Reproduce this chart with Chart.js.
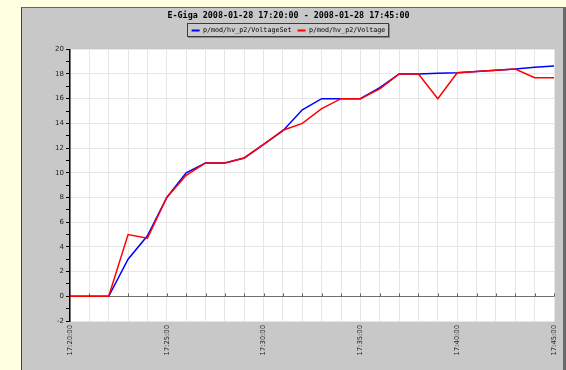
<!DOCTYPE html>
<html>
<head>
<meta charset="utf-8">
<script src="https://cdn.jsdelivr.net/npm/chart.js@4"></script>
<style>
  html, body { margin: 0; padding: 0; }
  body { width: 566px; height: 370px; background: #ffffe2; position: relative; overflow: hidden; }
  #panel {
    position: absolute; left: 21px; top: 7px; width: 541px; height: 380px;
    background: #c8c8c8;
    border-left: 1px solid #444; border-top: 1px solid #666; border-right: 3px solid #6a6a6a;
  }
  #wrap { position: absolute; left: 23px; top: 9px; width: 539px; height: 361px; }
</style>
</head>
<body>
<div id="panel"></div>
<div id="wrap"><canvas id="hvChart"></canvas></div>
<script>
// Datos: una muestra por minuto, 17:20 - 17:45
const timeLabels = [
  '17:20:00', '17:21:00', '17:22:00', '17:23:00', '17:24:00', '17:25:00',
  '17:26:00', '17:27:00', '17:28:00', '17:29:00', '17:30:00', '17:31:00',
  '17:32:00', '17:33:00', '17:34:00', '17:35:00', '17:36:00', '17:37:00',
  '17:38:00', '17:39:00', '17:40:00', '17:41:00', '17:42:00', '17:43:00',
  '17:44:00', '17:45:00'
];
const voltageSet = [0, 0, 0, 3, 4.9, 8, 10, 10.8, 10.8, 11.2, 12.3, 13.4, 15.1,
  16, 16, 16, 16.9, 18, 18, 18.05, 18.1, 18.2, 18.3, 18.4, 18.55, 18.65];
const voltage = [0, 0, 0, 5, 4.7, 8, 9.8, 10.8, 10.8, 11.2, 12.3, 13.45, 14,
  15.2, 16, 16, 16.8, 18, 18, 16, 18.1, 18.2, 18.3, 18.4, 17.7, 17.7];
const seriesNames = ['p/mod/hv_p2/VoltageSet', 'p/mod/hv_p2/Voltage'];

// Fondo blanco del área de trazado + marco de la leyenda
const plotBackground = {
  id: 'plotBackground',
  beforeDraw(chart) {
    const ctx = chart.ctx;
    const a = chart.chartArea;
    ctx.save();
    ctx.fillStyle = '#ffffff';
    ctx.fillRect(a.left, a.top, a.right - a.left, a.bottom - a.top);

    const boxes = chart.legend.legendHitBoxes;
    if (boxes && boxes.length) {
      const left = Math.round(Math.min(...boxes.map(b => b.left)) - 5);
      const right = Math.round(Math.max(...boxes.map(b => b.left + b.width)) + 4);
      const top = Math.round(boxes[0].top - 4);
      const bottom = Math.round(boxes[0].top + boxes[0].height + 3);
      ctx.fillStyle = '#8c8c8c';
      ctx.fillRect(left + 1, top + 1, right - left, bottom - top);
      ctx.fillStyle = '#cacaca';
      ctx.fillRect(left, top, right - left, bottom - top);
      ctx.strokeStyle = '#3c3c3c';
      ctx.lineWidth = 1;
      ctx.strokeRect(left + 0.5, top + 0.5, right - left - 1, bottom - top - 1);
    }
    ctx.restore();
  }
};

// Pequeñas marcas sobre la línea del cero
const zeroTicks = {
  id: 'zeroTicks',
  beforeDatasetsDraw(chart) {
    const x = chart.scales.x, y = chart.scales.y;
    const y0 = Math.round(y.getPixelForValue(0)) + 0.5;
    const ctx = chart.ctx;
    ctx.save();
    ctx.strokeStyle = '#606060';
    ctx.lineWidth = 1;
    ctx.beginPath();
    timeLabels.forEach((t, i) => {
      const px = Math.round(x.getPixelForValue(i)) + 0.5;
      ctx.moveTo(px, y0);
      ctx.lineTo(px, y0 - 3);
    });
    ctx.stroke();
    ctx.restore();
  }
};

const ctx = document.getElementById('hvChart').getContext('2d');
new Chart(ctx, {
  type: 'line',
  data: {
    labels: timeLabels,
    datasets: [
      {
        label: seriesNames[0],
        data: voltageSet,
        borderColor: '#0000ff',
        backgroundColor: '#0000ff',
        borderWidth: 1.5,
        pointRadius: 0,
        tension: 0,
        order: 1
      },
      {
        label: seriesNames[1],
        data: voltage,
        borderColor: '#ff0000',
        backgroundColor: '#ff0000',
        borderWidth: 1.5,
        pointRadius: 0,
        tension: 0,
        order: 0
      }
    ]
  },
  options: {
    responsive: true,
    maintainAspectRatio: false,
    animation: false,
    layout: { padding: { left: 0, right: 8, top: 0, bottom: 0 } },
    plugins: {
      title: {
        display: true,
        text: 'E-Giga 2008-01-28 17:20:00 - 2008-01-28 17:45:00',
        color: '#000',
        font: { family: 'DejaVu Sans Mono', size: 8.4, weight: 'bold' },
        padding: { top: 2, bottom: 0 }
      },
      legend: {
        position: 'top',
        labels: {
          color: '#000',
          font: { family: 'DejaVu Sans Mono', size: 6.7 },
          boxWidth: 8,
          boxHeight: 2,
          padding: 6,
          sort: (a, b) => a.datasetIndex - b.datasetIndex,
          generateLabels(chart) {
            const items = Chart.defaults.plugins.legend.labels.generateLabels(chart);
            items.forEach(it => { it.lineWidth = 0; it.fillStyle = it.strokeStyle; });
            return items;
          }
        }
      },
      // separación vacía entre la leyenda y el gráfico
      subtitle: {
        display: true,
        text: '',
        weight: 500,
        font: { size: 1 },
        padding: { top: 0, bottom: 4.3 }
      },
      tooltip: { enabled: false }
    },
    scales: {
      x: {
        type: 'category',
        offset: false,
        afterFit(scale) {
          scale.height = 49;
          scale.paddingLeft = 0;
          scale.paddingRight = 0;
        },
        border: { display: false },
        grid: { color: '#e6e6e6', lineWidth: 1, drawTicks: false },
        ticks: {
          autoSkip: false,
          minRotation: 90,
          maxRotation: 90,
          padding: 4,
          color: '#222',
          font: { family: 'DejaVu Sans', size: 6.8 },
          callback: function (value, index) {
            return index % 5 === 0 ? this.getLabelForValue(value) : '';
          }
        }
      },
      y: {
        min: -2,
        max: 20,
        afterFit(scale) { scale.width = 47; },
        border: { display: true, color: '#000', width: 1.5 },
        grid: {
          lineWidth: 1,
          tickLength: 4,
          tickColor: '#000',
          color: c => c.tick.value === 0 ? '#707070' : (c.tick.value % 2 === 0 ? '#e6e6e6' : 'rgba(0,0,0,0)')
        },
        ticks: {
          stepSize: 1,
          padding: 2,
          color: '#222',
          font: { family: 'DejaVu Sans', size: 7 },
          callback: v => v % 2 === 0 ? v : ''
        }
      }
    }
  },
  plugins: [plotBackground, zeroTicks]
});
</script>
</body>
</html>
